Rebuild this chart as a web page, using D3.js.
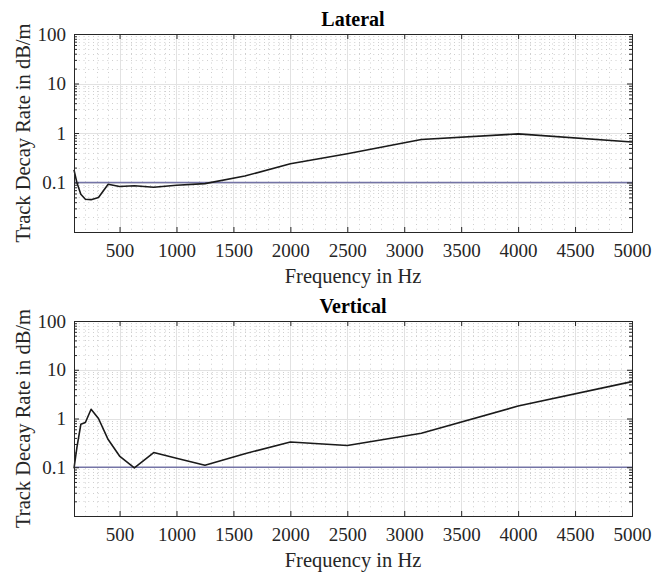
<!DOCTYPE html>
<html>
<head>
<meta charset="utf-8">
<script src="https://cdn.jsdelivr.net/npm/d3@7"></script>
<style>
	body { margin: 0; background: #fff; }
	svg { display: block; font-family: "Liberation Serif", "Times New Roman", serif; }
	.grid-major line { stroke: #e2e2e2; stroke-width: 1; }
	.grid-minor line { stroke: #cfcfcf; stroke-width: 1; stroke-dasharray: 1, 3.75; }
	.axis line { stroke: #262626; }
	.axis path { display: none; }
	.axis text { fill: #262626; font-size: 19px; font-family: "Liberation Serif", "Times New Roman", serif; }
</style>
</head>
<body>
<div id="chart"></div>
<script>
// third-octave band centre frequencies (Hz)
const freqs = [100, 125, 160, 200, 250, 315, 400, 500, 630, 800, 1000, 1250, 1600, 2000, 2500, 3150, 4000, 5000];
// track decay rate, dB/m
const lateral  = [0.18, 0.1, 0.058, 0.046, 0.045, 0.05, 0.092, 0.083, 0.086, 0.08, 0.088, 0.095, 0.135, 0.24, 0.38, 0.74, 0.96, 0.66];
const vertical = [0.095, 0.25, 0.76, 0.83, 1.55, 1.0, 0.37, 0.17, 0.097, 0.2, 0.153, 0.11, 0.19, 0.33, 0.28, 0.5, 1.8, 5.7];
const refLevel = 0.1;
const xTicks = [500, 1000, 1500, 2000, 2500, 3000, 3500, 4000, 4500, 5000];
const yTicks = [0.1, 1, 10, 100];
const xDomain = [100, 5000], yDomain = [0.01, 100];

const W = 652, H = 577;
const left = 74, right = 632;

const svg = d3.select("#chart").append("svg")
	.attr("width", W)
	.attr("height", H);

// minor log positions 2..9 in each decade
let yMinor = [];
for (let d = 0.01; d < 100; d *= 10) {
	for (let k = 2; k <= 9; k++) yMinor.push(+(k * d).toPrecision(3));
}
let xMinor = [];
for (let f = 200; f < 5000; f += 100) if (f % 500 != 0) xMinor.push(f);

function panel(top, h, title, values) {
	let x = d3.scaleLinear().domain(xDomain).range([left, right]);
	let y = d3.scaleLog().domain(yDomain).range([top + h, top]);
	let g = svg.append("g");

	// grids
	g.append("g").attr("class", "grid-minor")
		.selectAll("line.h").data(yMinor).enter().append("line")
		.attr("x1", left).attr("x2", right)
		.attr("y1", d => Math.round(y(d)) + 0.5).attr("y2", d => Math.round(y(d)) + 0.5);
	g.append("g").attr("class", "grid-minor")
		.selectAll("line.v").data(xMinor).enter().append("line")
		.attr("y1", top).attr("y2", top + h)
		.attr("x1", d => Math.round(x(d)) + 0.5).attr("x2", d => Math.round(x(d)) + 0.5);
	g.append("g").attr("class", "grid-major")
		.selectAll("line").data(yTicks.slice(0, 3)).enter().append("line")
		.attr("x1", left).attr("x2", right)
		.attr("y1", d => Math.round(y(d)) + 0.5).attr("y2", d => Math.round(y(d)) + 0.5);
	g.append("g").attr("class", "grid-major")
		.selectAll("line").data(xTicks.slice(0, -1)).enter().append("line")
		.attr("y1", top).attr("y2", top + h)
		.attr("x1", d => Math.round(x(d)) + 0.5).attr("x2", d => Math.round(x(d)) + 0.5);

	// reference line
	g.append("line")
		.attr("x1", left).attr("x2", right)
		.attr("y1", y(refLevel)).attr("y2", y(refLevel))
		.attr("stroke", "#7474a6").attr("stroke-width", 1.3);

	// data
	let line = d3.line().x(d => x(d[0])).y(d => y(d[1]));
	g.append("path")
		.datum(freqs.map((f, i) => [f, values[i]]))
		.attr("fill", "none")
		.attr("stroke", "#1a1a1a")
		.attr("stroke-width", 1.6)
		.attr("stroke-linejoin", "round")
		.attr("d", line);

	// axes, ticks inside like matlab
	g.append("g").attr("class", "axis")
		.attr("transform", "translate(0," + (top + h) + ")")
		.call(d3.axisBottom(x).tickValues(xTicks).tickSizeInner(-5).tickSizeOuter(0).tickPadding(12).tickFormat(d3.format("d")));
	g.append("g").attr("class", "axis")
		.attr("transform", "translate(0," + top + ")")
		.call(d3.axisTop(x).tickValues(xTicks).tickSizeInner(-5).tickSizeOuter(0).tickFormat(""));
	g.append("g").attr("class", "axis")
		.attr("transform", "translate(" + left + ",0)")
		.call(d3.axisLeft(y).tickValues(yTicks).tickSizeInner(-5).tickSizeOuter(0).tickPadding(8).tickFormat(d => d3.format("~g")(d)));
	g.append("g").attr("class", "axis")
		.attr("transform", "translate(" + left + ",0)")
		.call(d3.axisLeft(y).tickValues(yMinor).tickSizeInner(-3).tickSizeOuter(0).tickFormat(""));
	g.append("g").attr("class", "axis")
		.attr("transform", "translate(" + right + ",0)")
		.call(d3.axisRight(y).tickValues(yTicks).tickSizeInner(-5).tickSizeOuter(0).tickFormat(""));
	g.append("g").attr("class", "axis")
		.attr("transform", "translate(" + right + ",0)")
		.call(d3.axisRight(y).tickValues(yMinor).tickSizeInner(-3).tickSizeOuter(0).tickFormat(""));

	// box
	g.append("rect")
		.attr("x", left + 0.5).attr("y", top + 0.5)
		.attr("width", right - left).attr("height", h)
		.attr("fill", "none").attr("stroke", "#262626").attr("stroke-width", 1);

	// labels
	g.append("text")
		.attr("x", (left + right) / 2).attr("y", top - 8)
		.attr("text-anchor", "middle")
		.style("font-size", "20px").style("font-weight", "bold")
		.text(title);
	g.append("text")
		.attr("x", (left + right) / 2).attr("y", top + h + 51)
		.attr("text-anchor", "middle")
		.style("font-size", "20.5px").attr("fill", "#262626")
		.text("Frequency in Hz");
	g.append("text")
		.attr("transform", "translate(30," + (top + h / 2) + ") rotate(-90)")
		.attr("text-anchor", "middle")
		.style("font-size", "20.5px").attr("fill", "#262626")
		.text("Track Decay Rate in dB/m");
}

panel(34, 198, "Lateral", lateral);
panel(321, 195, "Vertical", vertical);
</script>
</body>
</html>
